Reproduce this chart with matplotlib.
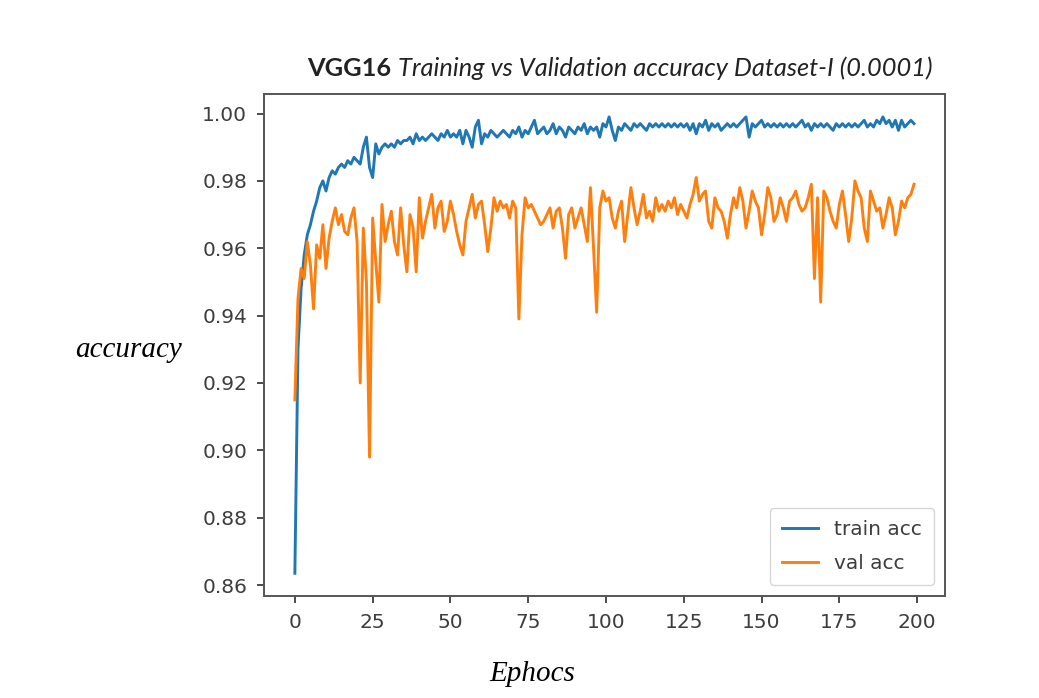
import numpy as np
import matplotlib
matplotlib.use("Agg")
import matplotlib.pyplot as plt

# accuracy per epoch
train_acc = [
    0.8635, 0.930, 0.948, 0.958, 0.964, 0.967, 0.971, 0.974, 0.978, 0.980,
    0.977, 0.981, 0.983, 0.982, 0.984, 0.985, 0.984, 0.986, 0.985, 0.987,
    0.986, 0.985, 0.990, 0.993, 0.984, 0.981, 0.991, 0.988, 0.990, 0.991,
    0.990, 0.991, 0.990, 0.992, 0.991, 0.992, 0.992, 0.993, 0.991, 0.994,
    0.992, 0.993, 0.992, 0.993, 0.994, 0.993, 0.992, 0.994, 0.993, 0.995,
    0.993, 0.994, 0.993, 0.995, 0.991, 0.995, 0.993, 0.990, 0.996, 0.998,
    0.991, 0.994, 0.993, 0.995, 0.994, 0.993, 0.994, 0.995, 0.994, 0.993,
    0.995, 0.994, 0.996, 0.993, 0.995, 0.994, 0.996, 0.998, 0.994, 0.995,
    0.996, 0.994, 0.995, 0.997, 0.994, 0.996, 0.995, 0.993, 0.996, 0.995,
    0.994, 0.996, 0.995, 0.997, 0.994, 0.996, 0.995, 0.996, 0.993, 0.997,
    0.996, 0.999, 0.995, 0.992, 0.996, 0.995, 0.997, 0.996, 0.995, 0.997,
    0.996, 0.997, 0.996, 0.995, 0.997, 0.996, 0.997, 0.996, 0.997, 0.996,
    0.997, 0.996, 0.997, 0.996, 0.997, 0.996, 0.997, 0.995, 0.997, 0.994,
    0.997, 0.996, 0.998, 0.995, 0.997, 0.996, 0.997, 0.995, 0.996, 0.997,
    0.996, 0.997, 0.996, 0.997, 0.998, 0.999, 0.993, 0.997, 0.996, 0.997,
    0.998, 0.996, 0.997, 0.996, 0.997, 0.996, 0.997, 0.996, 0.997, 0.996,
    0.997, 0.996, 0.997, 0.998, 0.996, 0.997, 0.995, 0.997, 0.996, 0.997,
    0.996, 0.997, 0.996, 0.995, 0.997, 0.996, 0.997, 0.996, 0.997, 0.996,
    0.997, 0.996, 0.997, 0.998, 0.996, 0.997, 0.996, 0.998, 0.997, 0.999,
    0.997, 0.998, 0.996, 0.998, 0.995, 0.998, 0.996, 0.997, 0.998, 0.997,
]

val_acc = [
    0.915, 0.945, 0.954, 0.951, 0.962, 0.955, 0.942, 0.961, 0.957, 0.967,
    0.954, 0.963, 0.968, 0.972, 0.967, 0.970, 0.965, 0.964, 0.969, 0.972,
    0.962, 0.920, 0.966, 0.950, 0.898, 0.969, 0.956, 0.944, 0.973, 0.962,
    0.967, 0.971, 0.962, 0.958, 0.972, 0.961, 0.953, 0.970, 0.966, 0.953,
    0.975, 0.963, 0.968, 0.972, 0.976, 0.966, 0.972, 0.974, 0.965, 0.968,
    0.974, 0.970, 0.965, 0.961, 0.958, 0.968, 0.972, 0.976, 0.969, 0.973,
    0.974, 0.967, 0.959, 0.966, 0.975, 0.971, 0.974, 0.972, 0.973, 0.969,
    0.974, 0.972, 0.939, 0.964, 0.975, 0.972, 0.973, 0.971, 0.969, 0.967,
    0.968, 0.970, 0.972, 0.966, 0.971, 0.972, 0.966, 0.957, 0.970, 0.972,
    0.966, 0.969, 0.972, 0.967, 0.962, 0.978, 0.960, 0.941, 0.972, 0.977,
    0.974, 0.975, 0.969, 0.966, 0.971, 0.974, 0.962, 0.970, 0.978, 0.972,
    0.967, 0.971, 0.976, 0.969, 0.971, 0.968, 0.975, 0.971, 0.973, 0.971,
    0.974, 0.972, 0.975, 0.970, 0.973, 0.971, 0.969, 0.973, 0.976, 0.981,
    0.974, 0.976, 0.977, 0.968, 0.966, 0.975, 0.972, 0.971, 0.968, 0.963,
    0.970, 0.975, 0.972, 0.978, 0.974, 0.966, 0.971, 0.977, 0.974, 0.972,
    0.964, 0.970, 0.978, 0.975, 0.968, 0.970, 0.975, 0.972, 0.968, 0.974,
    0.975, 0.977, 0.973, 0.971, 0.972, 0.975, 0.979, 0.951, 0.975, 0.944,
    0.977, 0.975, 0.971, 0.968, 0.966, 0.973, 0.977, 0.970, 0.962, 0.969,
    0.980, 0.977, 0.975, 0.966, 0.962, 0.977, 0.974, 0.971, 0.972, 0.966,
    0.970, 0.975, 0.972, 0.964, 0.968, 0.974, 0.972, 0.975, 0.976, 0.979,
]

epochs = np.arange(len(train_acc))
text_col = "#3d3d3d"

fig = plt.figure(figsize=(10.39, 6.98), dpi=100)
ax = fig.add_axes([0.254, 0.146, 0.6555, 0.7192])

ax.plot(epochs, train_acc, color="#1f77b4", lw=2.1, label="train acc")
ax.plot(epochs, val_acc, color="#ff7f0e", lw=2.1, label="val acc")

ax.set_xticks([0, 25, 50, 75, 100, 125, 150, 175, 200])
ax.set_yticks([0.86, 0.88, 0.90, 0.92, 0.94, 0.96, 0.98, 1.00])
ax.yaxis.set_major_formatter(matplotlib.ticker.FormatStrFormatter("%.2f"))
ax.tick_params(labelsize=14.5, colors=text_col, length=5, width=1.3, pad=7)
for s in ax.spines.values():
    s.set_linewidth(1.4)
    s.set_color("#555555")

leg = ax.legend(loc="lower right", fontsize=14.5, frameon=True,
                handlelength=1.8, borderpad=0.6, labelspacing=0.75,
                borderaxespad=0.55)
for t in leg.get_texts():
    t.set_color(text_col)

fig.text(0.072, 0.498, "accuracy", family="Liberation Serif", style="italic",
         fontsize=21, color="black", va="center", ha="left")
fig.text(0.471, 0.035, "Ephocs", family="Liberation Serif", style="italic",
         fontsize=21, color="black", va="center", ha="left")

t1 = fig.text(0.296, 0.891, "VGG16 ", family="Lato", fontweight="bold",
              fontsize=18.3, color="#222222", va="baseline", ha="left")
ax.annotate("Training vs Validation accuracy Dataset-I (0.0001)",
            xy=(1, 0), xycoords=t1, va="bottom", ha="left",
            family="Lato", style="italic", fontsize=18.3, color="#222222",
            annotation_clip=False)

fig.savefig("out.png", dpi=100)
